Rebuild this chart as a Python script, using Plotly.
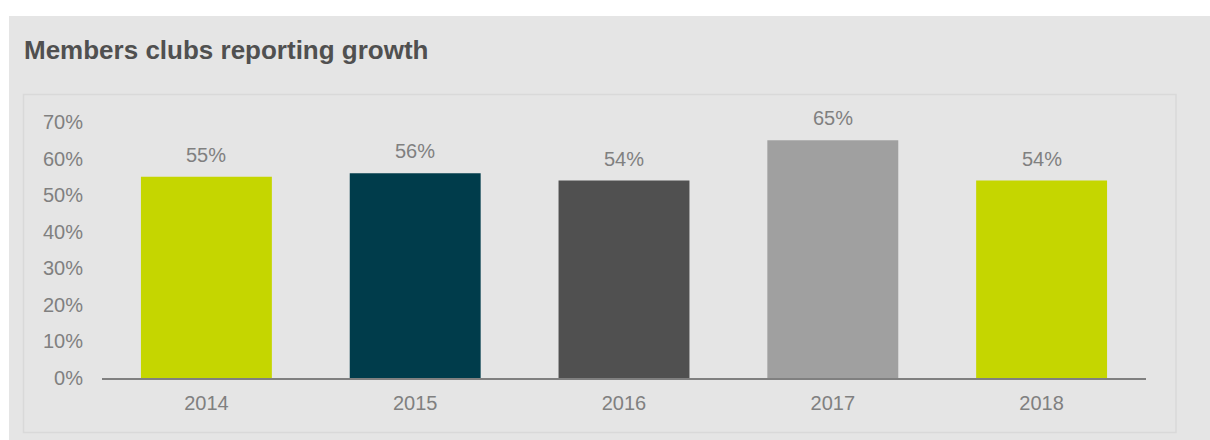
import plotly.graph_objects as go

# Share of member clubs reporting growth, by year
years = ["2014", "2015", "2016", "2017", "2018"]
growth_pct = [55, 56, 54, 65, 54]
bar_colors = ["#c5d600", "#003c4b", "#505050", "#a0a0a0", "#c5d600"]
y_ticks = [0, 10, 20, 30, 40, 50, 60, 70]
y_tick_labels = [f"{v}%" for v in y_ticks]

FONT = "Liberation Sans, Arial, sans-serif"
W, H = 1210, 440
ML, MR, MT, MB = 102, 64, 122, 62

fig = go.Figure(
    go.Bar(
        x=years,
        y=growth_pct,
        marker=dict(color=bar_colors, line=dict(width=0)),
        width=0.627,
        hoverinfo="skip",
    )
)

def px_x(p):
    return (p - ML) / (W - ML - MR)

def px_y(p):
    return (H - MB - p) / (H - MT - MB)

shapes = [
    # grey panel behind the chart
    dict(type="rect", xref="paper", yref="paper",
         x0=px_x(9), x1=px_x(1215), y0=px_y(445), y1=px_y(16),
         fillcolor="#e5e5e5", line=dict(width=0), layer="below"),
    # inner framed box
    dict(type="rect", xref="paper", yref="paper",
         x0=px_x(23.5), x1=px_x(1176), y0=px_y(432.5), y1=px_y(94.5),
         fillcolor="#e5e5e5", line=dict(color="#d9d9d9", width=1.5), layer="below"),
]

annotations = [
    dict(text="<b>Members clubs reporting growth</b>", xref="paper", yref="paper",
         x=px_x(22), y=px_y(50), xanchor="left", yanchor="middle", showarrow=False,
         font=dict(family=FONT, size=26, color="#505050")),
]
# value labels above each bar (category index positions)
for i, v in enumerate(growth_pct):
    annotations.append(dict(
        text=f"{v}%", x=i, y=v, xref="x", yref="y",
        xanchor="center", yanchor="middle", yshift=22, showarrow=False,
        font=dict(family=FONT, size=20, color="#808080"),
    ))

fig.update_layout(
    width=W, height=H,
    margin=dict(l=ML, r=MR, t=MT, b=MB, pad=0),
    paper_bgcolor="#ffffff",
    plot_bgcolor="rgba(0,0,0,0)",
    showlegend=False,
    bargap=0.373,
    shapes=shapes,
    annotations=annotations,
    font=dict(family=FONT, color="#808080", size=20),
    xaxis=dict(
        type="category", categoryorder="array", categoryarray=years,
        range=[-0.5, len(years) - 0.5],
        showgrid=False, zeroline=False, showline=True, linecolor="#808080", linewidth=2,
        ticks="", tickfont=dict(family=FONT, size=20, color="#808080"), ticklabelstandoff=6,
        fixedrange=True,
    ),
    yaxis=dict(
        range=[0, 70], tickvals=y_ticks, ticktext=y_tick_labels,
        showgrid=False, zeroline=False, showline=False, ticks="",
        tickfont=dict(family=FONT, size=20, color="#808080"), ticklabelstandoff=18,
        fixedrange=True,
    ),
)

fig.write_html("out.html", config={"displayModeBar": False})
